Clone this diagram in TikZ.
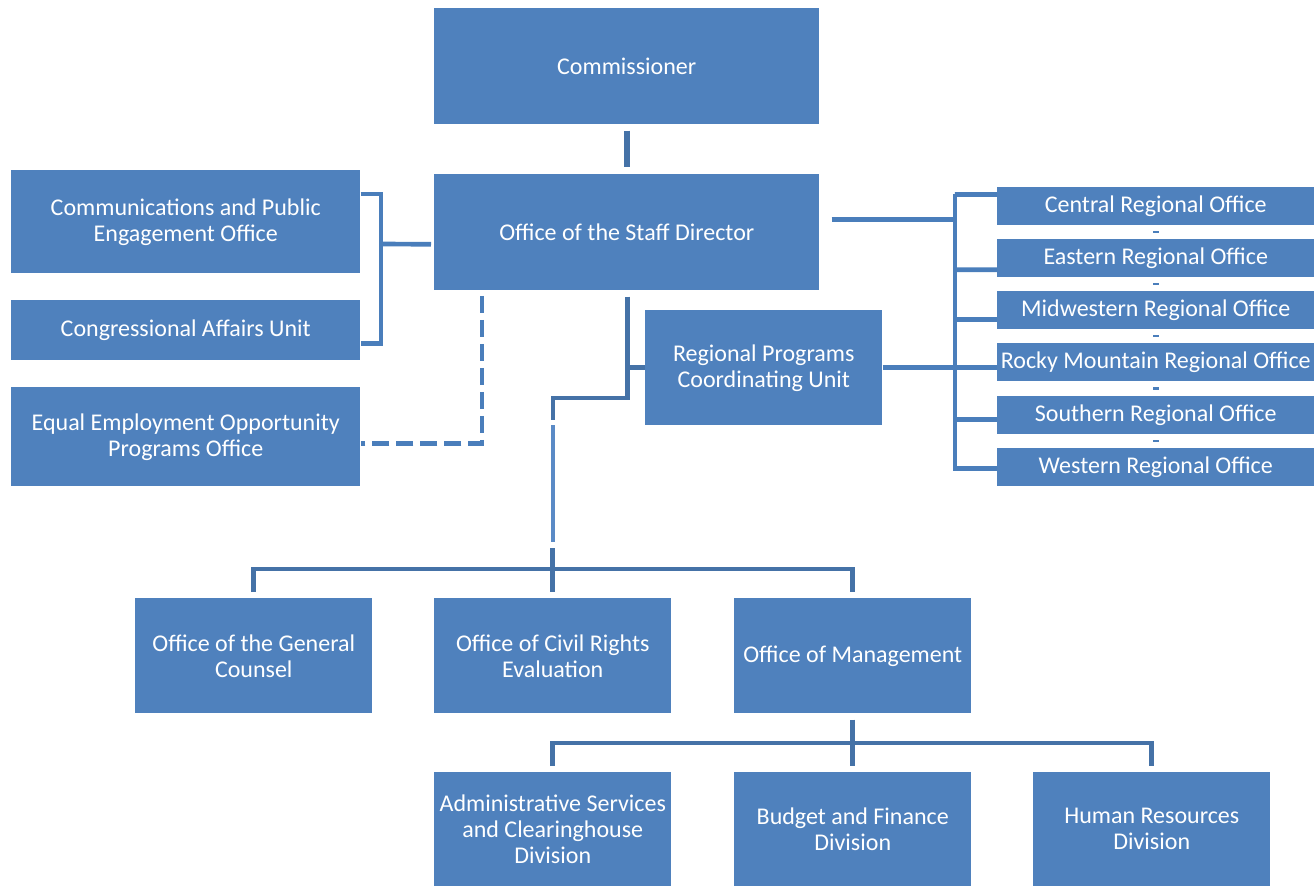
\documentclass[tikz,border=0pt]{standalone}
\usepackage{fontspec}
\setmainfont{Carlito}
\definecolor{boxblue}{HTML}{4F81BD}
\definecolor{lineblue}{HTML}{4A7EBB}
\definecolor{linedark}{HTML}{4572A7}
\definecolor{linelight}{HTML}{5A8AC6}
\begin{document}
\begin{tikzpicture}[x=0.75pt,y=-0.75pt,
  box/.style={fill=boxblue, text=white, inner sep=0pt, align=center, anchor=north west,
    font=\fontsize{18}{19.5}\selectfont},
  conn/.style={draw=lineblue, line width=3.5pt, line join=miter},
  conndark/.style={draw=linedark, line width=3.5pt, line join=miter},
  eeoline/.style={draw=lineblue, line width=3.5pt, dash pattern=on 13pt off 5pt},
  rotick/.style={draw=lineblue, line width=4.5pt, shorten <=4.2pt, shorten >=4.2pt},
]
\useasboundingbox (0,0) rectangle (1314,886);

% top
\node[box, minimum width=288.75pt, minimum height=87pt] (comm) at (434,8) {Commissioner};
\node[box, minimum width=288.75pt, minimum height=87pt] (staff) at (434,174) {Office of the Staff Director};

% left
\node[box, minimum width=261.75pt, minimum height=77.25pt] (cpe) at (11,170) {Communications and Public\\Engagement Office};
\node[box, minimum width=261.75pt, minimum height=45pt] (cau) at (11,300) {Congressional Affairs Unit};
\node[box, minimum width=261.75pt, minimum height=74.25pt] (eeo) at (11,387) {Equal Employment Opportunity\\Programs Office};

% regional programs
\node[box, minimum width=177.75pt, minimum height=86.25pt] (rpcu) at (645,310) {Regional Programs\\Coordinating Unit};

% regional offices
\node[box, minimum width=237.75pt, minimum height=28.5pt] (ro1) at (997,187) {Central Regional Office};
\node[box, minimum width=237.75pt, minimum height=28.5pt] (ro2) at (997,239) {Eastern Regional Office};
\node[box, minimum width=237.75pt, minimum height=28.5pt] (ro3) at (997,291) {Midwestern Regional Office};
\node[box, minimum width=237.75pt, minimum height=28.5pt] (ro4) at (997,343) {Rocky Mountain Regional Office};
\node[box, minimum width=237.75pt, minimum height=28.5pt] (ro5) at (997,396) {Southern Regional Office};
\node[box, minimum width=237.75pt, minimum height=28.5pt] (ro6) at (997,448) {Western Regional Office};

% middle row
\node[box, minimum width=177.75pt, minimum height=86.25pt] (gc) at (135,598) {Office of the General\\Counsel};
\node[box, minimum width=177.75pt, minimum height=86.25pt] (cr) at (434,598) {Office of Civil Rights\\Evaluation};
\node[box, minimum width=177.75pt, minimum height=86.25pt] (om) at (734,598) {Office of Management};

% bottom row
\node[box, minimum width=177.75pt, minimum height=85.5pt] (as) at (434,772) {Administrative Services\\and Clearinghouse\\Division};
\node[box, minimum width=177.75pt, minimum height=85.5pt] (bf) at (734,772) {Budget and Finance\\Division};
\node[box, minimum width=177.75pt, minimum height=85.5pt] (hr) at (1033,772) {Human Resources\\Division};

% coordinates
\coordinate (rbT) at (955,194);
\coordinate (rbB) at (955,468);
\coordinate (j1) at (553,398);
\coordinate (v1) at (553,425);
\coordinate (v2) at (553,542);
\coordinate (bb) at (553,569);
\coordinate (mb) at (852,743);
\coordinate (lb) at (381,244);

% commissioner -> staff
\draw[conndark, line width=4.2pt, shorten <=4.5pt, shorten >=5pt] (comm.south) -- (staff.north);

% left bracket
\draw[conn] ([yshift=-18pt]cpe.north east) -| (lb) |- ([yshift=-9.75pt]cau.east);
\draw[conn] (lb) -- ([xshift=-2.25pt,yshift=-9pt]staff.west);

% right bus
\draw[conn] ([xshift=9pt,yshift=9.75pt]staff.east) -- ([yshift=9.75pt]staff.east -| rbT);
\draw[conn] ([yshift=9pt]ro1.west) -| (rbT) -- (rbB) |- ([yshift=-0.75pt]ro6.west);
\draw[conn] (rbT |- ro2.west) ++(0,11.5) -- ([yshift=-8.6pt]ro2.west);
\draw[conn] (rbT |- ro3.west) ++(0,9) -- ([yshift=-6.75pt]ro3.west);
\draw[conn] (rbT |- ro4.west) ++(0,5) -- ([yshift=-3.75pt]ro4.west);
\draw[conn] (rbT |- ro5.west) ++(0,4) -- ([yshift=-3pt]ro5.west);
\draw[conn] (rpcu.east) -- (rpcu.east -| rbT);

% ticks between regional offices
\draw[rotick] (ro1.south) -- (ro2.north);
\draw[rotick] (ro2.south) -- (ro3.north);
\draw[rotick] (ro3.south) -- (ro4.north);
\draw[rotick] (ro4.south) -- (ro5.north);
\draw[rotick] (ro5.south) -- (ro6.north);

% staff -> RPCU and down
\draw[conndark] ([xshift=0.375pt,yshift=-4.5pt]staff.south) |- (j1) -- ([yshift=-16.5pt]j1);
\draw[conndark] ([xshift=0.375pt]staff.south |- rpcu.west) -- (rpcu.west);
\draw[draw=linelight, line width=3.5pt] (v1) -- (v2);

% EEO dashed
\draw[eeoline] ([xshift=36pt,yshift=-4pt]staff.south west) |- ([yshift=-4.9pt]eeo.east);

% middle bracket
\draw[conndark] ([yshift=4.5pt]gc.north) |- (bb) -| ([yshift=4.5pt]om.north);
\draw[conndark] ([yshift=37.5pt]cr.north) -- ([yshift=4.5pt]cr.north);

% management bracket
\draw[conndark] ([yshift=-4.5pt]om.south) -- ([yshift=4.5pt]bf.north);
\draw[conndark] ([yshift=4.5pt]as.north) |- (mb) -| ([yshift=4.5pt]hr.north);
\end{tikzpicture}
\end{document}
